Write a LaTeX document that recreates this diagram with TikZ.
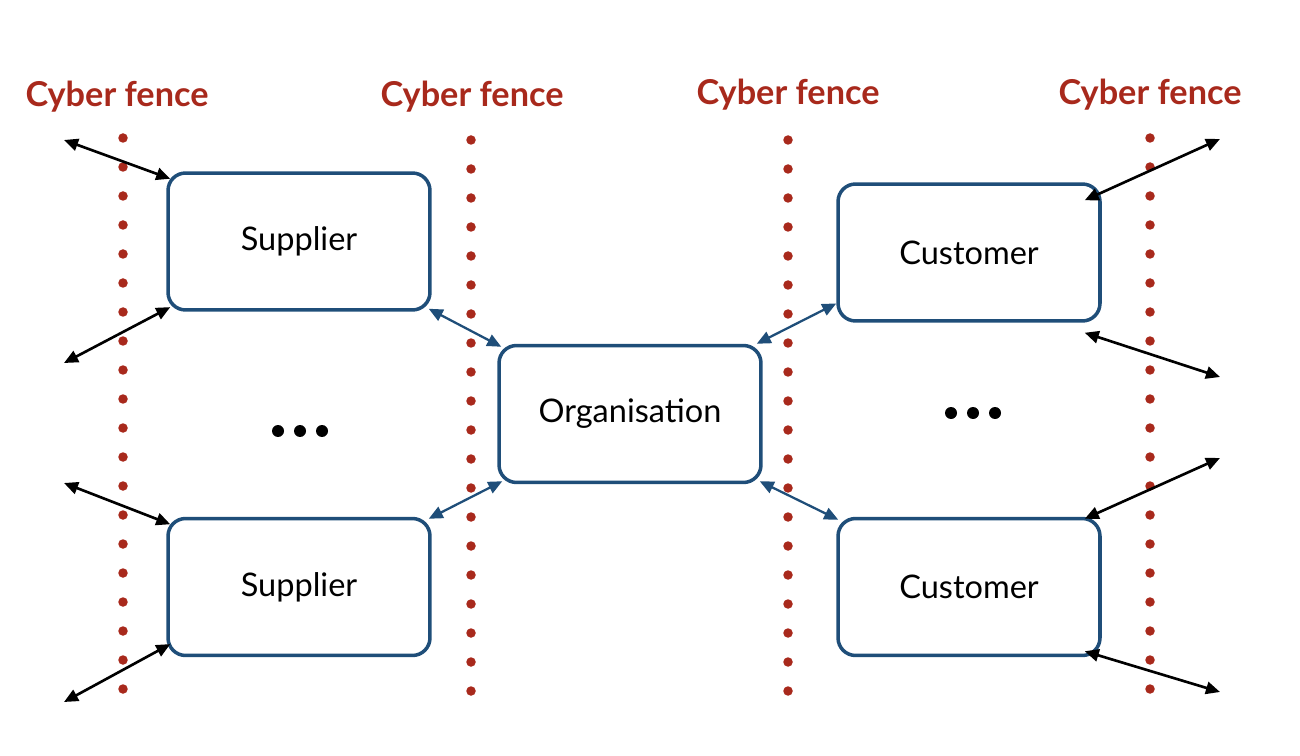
\documentclass[tikz,border=0pt]{standalone}
\usepackage{fontspec}
\setmainfont{Lato}
\usetikzlibrary{arrows.meta,calc}
\definecolor{fencered}{HTML}{A8291C}
\definecolor{boxblue}{HTML}{1F4E79}
\begin{document}
\begin{tikzpicture}[x=0.02cm,y=-0.02cm,
  entity/.style={draw=boxblue,line width=2pt,rounded corners=10pt,minimum width=5.24cm,minimum height=2.74cm,font=\fontsize{18.5}{22}\selectfont,inner sep=0pt},
  fencelabel/.style={text=fencered,font=\fontsize{19.5}{22}\selectfont\bfseries,inner sep=0pt},
  fencedot/.style={circle,fill=fencered,inner sep=0pt,minimum size=0.19cm},
  blink/.style={draw=boxblue,line width=1.3pt,{Triangle[length=8pt,width=7pt]}-{Triangle[length=8pt,width=7pt]}},
  klink/.style={draw=black,line width=1.5pt,{Triangle[length=8pt,width=7pt]}-{Triangle[length=8pt,width=7pt]}},
  ddot/.style={circle,fill=black,inner sep=0pt,minimum size=0.24cm}]
\useasboundingbox (0,0) rectangle (1300,756);
% fence labels
\node[fencelabel] (l1) at (117,97) {Cyber fence};
\node[fencelabel] (l2) at (472,97) {Cyber fence};
\node[fencelabel] (l3) at (788,95) {Cyber fence};
\node[fencelabel] (l4) at (1150,95) {Cyber fence};
% fences
\foreach \fx/\fy in {123/138,471/140,788/140,1150/138}{
  \foreach \k in {0,...,19}{
    \node[fencedot] at (\fx,\fy+\k*29) {};
  }
}
% boxes
\node[entity,fill=white] (sup1) at (299,241.5) {\raisebox{-1pt}{Supplier}};
\node[entity,fill=white] (sup2) at (299,587) {\raisebox{-1pt}{Supplier}};
\node[entity,fill=white] (org) at (630,414) {\raisebox{-2pt}{Organisation}};
\node[entity,fill=white] (cus1) at (969,252.5) {Customer};
\node[entity,fill=white] (cus2) at (969,587) {Customer};
% ellipses
\node[ddot] (d1) at (278,431) {};
\node[ddot] (d2) at (300,431) {};
\node[ddot] (d3) at (322,431) {};
\node[ddot] (e1) at (951,413) {};
\node[ddot] (e2) at (973,413) {};
\node[ddot] (e3) at (995,413) {};
% blue links
\draw[blink] ($(sup1.south east)+(-3,-3)$) -- ($(org.north west)+(4,3)$);
\draw[blink] ($(sup2.north east)+(-3,2)$) -- ($(org.south west)+(5,-3)$);
\draw[blink] (org.29.5) -- (cus1.201.5);
\draw[blink] ($(org.south east)+(-3,-3)$) -- ($(cus2.north west)+(2,3)$);
% outer free ends
\coordinate (p1) at (64,140);
\coordinate (p2) at (64,363);
\coordinate (p3) at (64,483);
\coordinate (p4) at (64,702);
\coordinate (q1) at (1220,139);
\coordinate (q2) at (1220,377);
\coordinate (q3) at (1220,458);
\coordinate (q4) at (1220,692);
% black links
\draw[klink] (p1) -- ($(sup1.154)+(4,2)$);
\draw[klink] (p2) -- ($(sup1.207)+(4,-2)$);
\draw[klink] (p3) -- ($(sup2.154.7)+(4,2)$);
\draw[klink] (p4) -- ($(sup2.204.9)+(4,-2)$);
\draw[klink] ($(cus1.north east)+(-17,18)$) -- (q1);
\draw[klink] ($(cus1.south east)+(-17,10)$) -- (q2);
\draw[klink] ($(cus2.north east)+(-17,2)$) -- (q3);
\draw[klink] ($(cus2.south east)+(-17,-6)$) -- (q4);
\end{tikzpicture}
\end{document}
